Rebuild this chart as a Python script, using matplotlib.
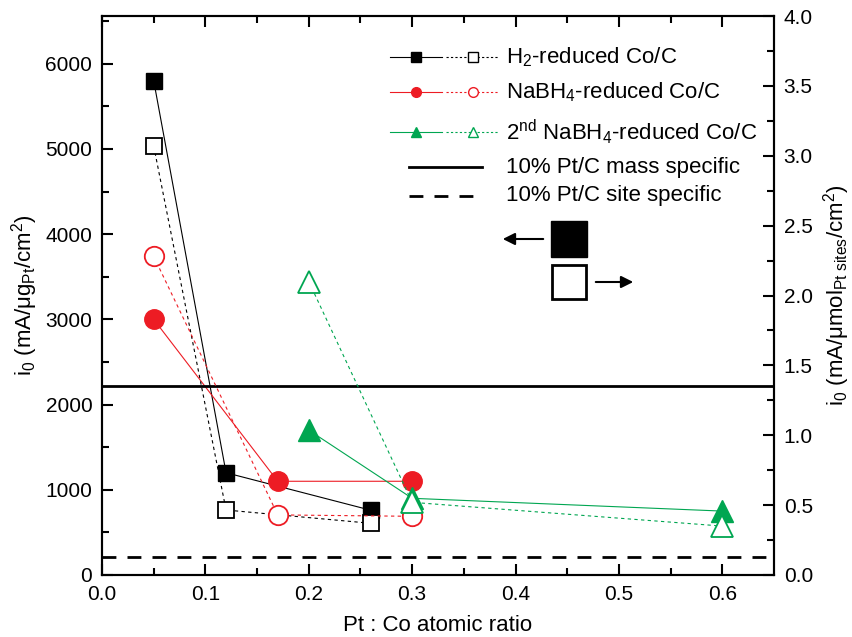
import numpy as np
import matplotlib
matplotlib.use("Agg")
import matplotlib.pyplot as plt

plt.rcParams['font.family'] = ['Liberation Sans', 'DejaVu Sans']
plt.rcParams['mathtext.fontset'] = 'custom'
plt.rcParams['mathtext.rm'] = 'Liberation Sans'
plt.rcParams['mathtext.it'] = 'Liberation Sans:italic'
plt.rcParams['mathtext.default'] = 'regular'

# mass specific (left axis), filled symbols
h2_x = [0.05, 0.12, 0.26]
h2_mass = [5800, 1200, 760]
nabh4_x = [0.05, 0.17, 0.30]
nabh4_mass = [3000, 1100, 1100]
nabh4_2_x = [0.20, 0.30, 0.60]
nabh4_2_mass = [1700, 900, 750]

# site specific (right axis), open symbols
h2_site = [3.07, 0.465, 0.37]
nabh4_site = [2.28, 0.43, 0.42]
nabh4_2_site = [2.10, 0.52, 0.35]

ptc_mass = 2220
ptc_site_left = 210

black = 'black'
red = '#ed1c24'
green = '#00a651'

fig = plt.figure(figsize=(8.53, 6.37), dpi=100)
ax = fig.add_axes([102/853, 1-575/637, 672/853, 559/637])
ax2 = ax.twinx()

ax.plot(h2_x, h2_mass, '-', color=black, lw=0.8, marker='s', ms=12, mfc=black, mec=black)
ax.plot(nabh4_x, nabh4_mass, '-', color=red, lw=0.8, marker='o', ms=14, mfc=red, mec=red)
ax.plot(nabh4_2_x, nabh4_2_mass, '-', color=green, lw=0.8, marker='^', ms=16, mfc=green, mec=green)

ax2.plot(h2_x, h2_site, '--', color=black, lw=0.8, dashes=(3, 3), marker='s', ms=12, mfc='white', mec=black, mew=1.3)
ax2.plot(nabh4_x, nabh4_site, '--', color=red, lw=0.8, dashes=(3, 3), marker='o', ms=14, mfc='white', mec=red, mew=1.3)
ax2.plot(nabh4_2_x, nabh4_2_site, '--', color=green, lw=0.8, dashes=(3, 3), marker='^', ms=16, mfc='white', mec=green, mew=1.3)

ax.axhline(ptc_mass, color='black', lw=2)
ax.axhline(ptc_site_left, color='black', lw=2, ls=(0, (5, 4)))

ax.set_xlim(0, 0.65)
ax.set_ylim(0, 6560)
ax2.set_ylim(0, 4)
ax.set_xticks(np.arange(0, 0.61, 0.1))
ax.set_xticks(np.arange(0.05, 0.65, 0.1), minor=True)
ax.set_yticks(np.arange(0, 6001, 1000))
ax.set_yticks(np.arange(500, 6560, 1000), minor=True)
ax2.set_yticks(np.arange(0, 4.01, 0.5))
ax2.set_yticks(np.arange(0.25, 4, 0.5), minor=True)
ax.xaxis.set_major_formatter(matplotlib.ticker.FormatStrFormatter('%.1f'))
ax2.yaxis.set_major_formatter(matplotlib.ticker.FormatStrFormatter('%.1f'))

ax.tick_params(which='both', direction='in', top=True, width=1.5, labelsize=15)
ax.tick_params(which='major', length=8)
ax.tick_params(which='minor', length=5)
ax.tick_params(axis='x', pad=7)
ax.tick_params(axis='y', left=True, right=False, pad=7)
ax2.tick_params(which='both', direction='in', width=1.5, labelsize=15, pad=7)
ax2.tick_params(which='major', length=8)
ax2.tick_params(which='minor', length=5)
for a in (ax, ax2):
    for s in a.spines.values():
        s.set_linewidth(1.5)

ax.set_xlabel('Pt : Co atomic ratio', fontsize=16, labelpad=8)
ax.set_ylabel(r'i$_0$ (mA/$\mu$g$_{Pt}$/cm$^2$)', fontsize=16, labelpad=4)
ax2.set_ylabel(r'i$_0$ (mA/$\mu$mol$_{Pt\ sites}$/cm$^2$)', fontsize=16, labelpad=6)

# legend drawn by hand
def fx(px):
    return (px - 102) / 672

def fy(py):
    return (575 - py) / 559

rows = [
    (57, black, 's', r'H$_2$-reduced Co/C'),
    (92, red, 'o', r'NaBH$_4$-reduced Co/C'),
    (132, green, '^', r'2$^{nd}$ NaBH$_4$-reduced Co/C'),
]
for py, c, m, label in rows:
    ax.plot([fx(390), fx(442)], [fy(py)] * 2, '-', color=c, lw=0.8, transform=ax.transAxes)
    ax.plot([fx(416)], [fy(py)], m, color=c, ms=7, transform=ax.transAxes)
    ax.plot([fx(446), fx(498)], [fy(py)] * 2, '--', color=c, lw=0.8, dashes=(2, 2), transform=ax.transAxes)
    ax.plot([fx(473)], [fy(py)], m, color=c, ms=7, mfc='white', mec=c, transform=ax.transAxes)
    ax.text(fx(506), fy(py), label, transform=ax.transAxes, fontsize=16, va='center')

ax.plot([fx(409), fx(482)], [fy(167)] * 2, '-', color='black', lw=2, transform=ax.transAxes)
ax.text(fx(506), fy(167), '10% Pt/C mass specific', transform=ax.transAxes, fontsize=16, va='center')
ax.plot([fx(409), fx(482)], [fy(196)] * 2, color='black', lw=2, ls=(0, (5, 4)), transform=ax.transAxes)
ax.text(fx(506), fy(196), '10% Pt/C site specific', transform=ax.transAxes, fontsize=16, va='center')

# axis indicators
ax.plot([fx(569)], [fy(239)], 's', color='black', ms=26, transform=ax.transAxes)
ax.annotate('', xy=(fx(500), fy(239)), xytext=(fx(546), fy(239)), xycoords='axes fraction',
            arrowprops=dict(arrowstyle='-|>', color='black', lw=1.5, mutation_scale=18))
ax.plot([fx(569)], [fy(282)], 's', color='black', mfc='white', mew=2, ms=25, transform=ax.transAxes)
ax.annotate('', xy=(fx(636), fy(282)), xytext=(fx(593), fy(282)), xycoords='axes fraction',
            arrowprops=dict(arrowstyle='-|>', color='black', lw=1.5, mutation_scale=18))

fig.savefig('out.png', dpi=100)
